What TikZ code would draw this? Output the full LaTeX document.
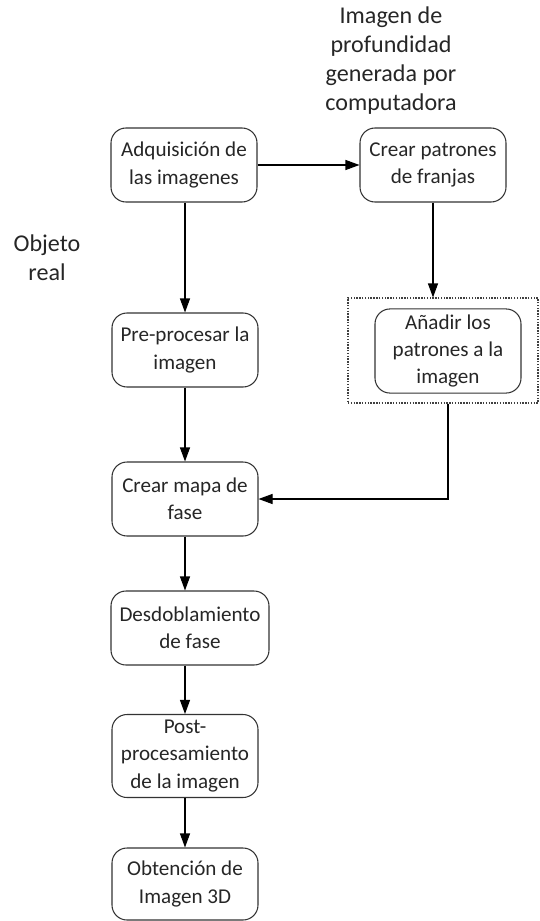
\documentclass[tikz,border=0pt]{standalone}
\usepackage{fontspec}
\setmainfont{Carlito}
\usetikzlibrary{shapes, arrows.meta, positioning}
\tikzstyle{proc} = [rectangle, draw=black!80, line width=0.6pt, rounded corners=0.3cm, minimum width=2.92cm, minimum height=1.48cm, align=center, text=black!85, font=\fontsize{12}{15.4}\selectfont]
\tikzstyle{grupo} = [rectangle, draw=black!75, line width=0.6pt, dash pattern=on 0.8pt off 0.8pt, minimum width=3.8cm, minimum height=2.1cm]
\tikzstyle{etiqueta} = [align=center, text=black!85, font=\fontsize{13.7}{16.5}\selectfont]
\tikzstyle{flow} = [-{Triangle[length=0.28cm, width=0.2cm]}, line width=0.6pt]

\begin{document}
\begin{tikzpicture}
  \useasboundingbox (0,0) rectangle (10.8,-18.42);

  % etiquetas
  \node[etiqueta] (comp) at (7.82,-1.22) {Imagen de\\profundidad\\generada por\\computadora};
  \node[etiqueta] (real) at (0.94,-5.16) {Objeto\\real};

  % fila superior
  \node[proc] (adq) at (3.68,-3.30) {Adquisición de\\las imagenes};
  \node[proc] (patr) at (8.66,-3.30) {Crear patrones\\de franjas};

  % rama derecha
  \node[grupo] (grp) at (8.86,-7.01) {};
  \node[proc] (anad) at (8.96,-7.02) {Añadir los\\patrones a la\\imagen};

  % columna principal
  \node[proc] (prep) at (3.70,-7.00) {Pre-procesar la\\imagen};
  \node[proc] (mapa) at (3.70,-9.98) {Crear mapa de\\fase};
  \node[proc, minimum width=3.16cm] (desd) at (3.80,-12.56) {Desdoblamiento\\de fase};
  \node[proc, minimum height=1.44cm] (post) at (3.70,-15.12) {Post-\\procesamiento\\de la imagen};
  \node[proc, minimum height=1.44cm] (obt) at (3.70,-17.68) {Obtención de\\Imagen 3D};

  % flechas
  \draw[flow] (adq) -- (patr);
  \draw[flow] (patr.south) -- (patr.south |- grp.north);
  \draw[flow] (anad |- grp.south) |- (mapa.east);
  \draw[flow] (adq.south -| prep) -- (prep.north);
  \draw[flow] (prep) -- (mapa);
  \draw[flow] (mapa.south) -- (mapa.south |- desd.north);
  \draw[flow] (desd.south -| post) -- (post.north);
  \draw[flow] (post) -- (obt);
\end{tikzpicture}
\end{document}
